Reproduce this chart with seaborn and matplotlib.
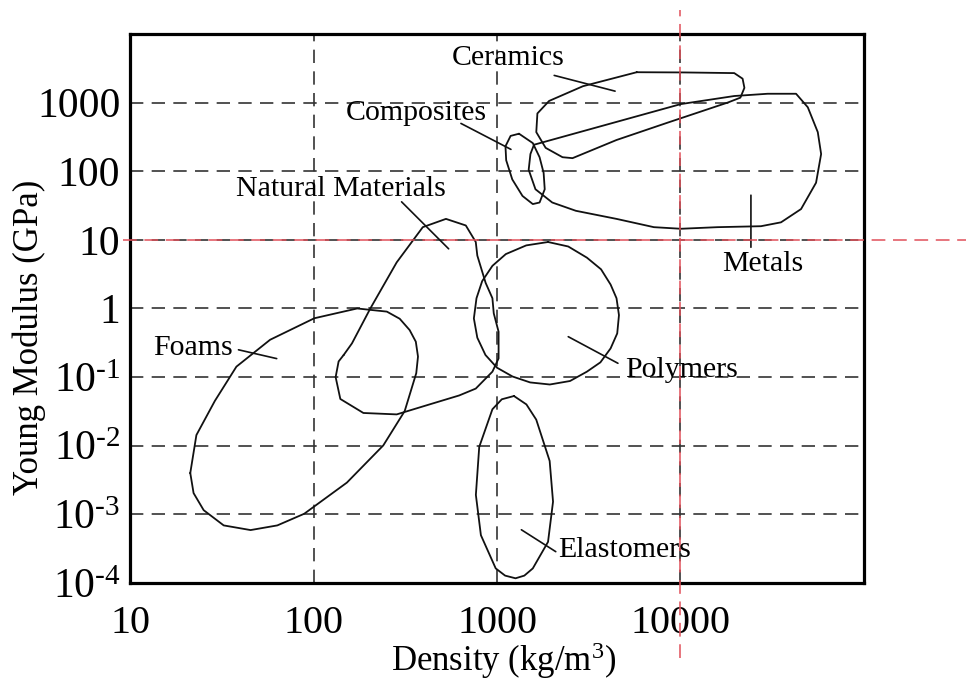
import matplotlib
matplotlib.use("Agg")
import numpy as np
import pandas as pd
import matplotlib.pyplot as plt
import seaborn as sns
from matplotlib.ticker import FixedLocator, FixedFormatter, NullLocator

# ---------------- data (outlines) ----------------
ceramics_density = [5770, 10440, 19630, 21800, 22300, 21200, 18070, 8450, 4480, 2580, 2275, 1841, 1637, 1660, 1923, 2940]
ceramics_modulus = [2770, 2750, 2690, 2230, 1640, 1180, 1000, 507, 285, 155, 160, 219, 371, 695, 1057, 1733]

composites_density = [1318, 1567, 1706, 1795, 1820, 1706, 1567, 1377, 1211, 1122, 1112, 1186]
composites_modulus = [352, 257, 160, 94.6, 54.6, 35.0, 33.2, 43.6, 76, 144.5, 231, 327]

metals_density = [1590, 10040, 19640, 29850, 42640, 49400, 56000, 58400, 54800, 45400, 35300, 27450,
                  15900, 10040, 7160, 4480, 2690, 2000, 1620, 1488, 1521]
metals_modulus = [243, 951, 1247, 1345, 1345, 855, 371, 178, 68, 28.1, 18.0, 15.8,
                  15.3, 14.5, 15.3, 20.2, 26.5, 35.0, 54.6, 105, 178]

natural_density = [146, 162, 204, 284, 394, 527, 676, 766, 781, 867, 944, 960, 1020, 1020, 944, 766,
                   622, 429, 284, 187, 140, 132, 137]
natural_modulus = [0.21, 0.31, 1.0, 4.7, 15.3, 20.2, 16.2, 9.3, 5.9, 2.36, 1.41, 0.85, 0.458, 0.187,
                   0.12, 0.068, 0.054, 0.040, 0.0286, 0.030, 0.048, 0.10, 0.169]

foams_density = [21.3, 22.2, 25.2, 32.4, 45.4, 63.5, 89, 152, 240, 314, 363, 371, 361, 334, 295, 251,
                 173, 101, 58, 38, 29, 23]
foams_modulus = [0.0040, 0.00204, 0.00115, 0.00069, 0.00059, 0.00069, 0.00102, 0.0029, 0.0101, 0.032,
                 0.114, 0.199, 0.328, 0.485, 0.708, 0.90, 1.0, 0.72, 0.35, 0.142, 0.045, 0.0143]

polymers_density = [1897, 2445, 3090, 3690, 4160, 4480, 4620, 4520, 4160, 3660, 3090, 2500, 1940, 1516,
                    1215, 1000, 865, 781, 748, 773, 830, 944, 1117, 1443]
polymers_modulus = [9.3, 8.0, 5.5, 3.72, 2.23, 1.41, 0.80, 0.433, 0.262, 0.164, 0.120, 0.0877, 0.078,
                    0.0836, 0.102, 0.137, 0.21, 0.375, 0.716, 1.41, 2.5, 4.18, 6.2, 8.3]

elastomers_density = [1237, 1446, 1636, 1936, 2020, 1897, 1567, 1409, 1262, 1107, 984, 817, 767, 800, 944, 1062]
elastomers_modulus = [0.053, 0.040, 0.024, 0.0060, 0.00153, 0.000397, 0.000163, 0.000128, 0.000117,
                      0.000128, 0.000163, 0.000497, 0.00192, 0.0096, 0.034, 0.0475]

# labels: name, text anchor (density, modulus), leader start, leader end
label_names = ["Ceramics", "Composites", "Natural Materials", "Foams", "Polymers", "Elastomers", "Metals"]
label_pos = [(570, 3570), (149, 562), (37.6, 43.6), (13.4, 0.212), (4970, 0.1016), (2160, 0.000238), (16900, 3.52)]
leader_start = [(2050, 2490), (636, 497), (302, 35.8), (39, 0.25), (2445, 0.388), (1358, 0.000596), (24200, 44.7)]
leader_end = [(4400, 1468), (1191, 208), (545, 7.4), (63, 0.186), (4560, 0.159), (2090, 0.000286), (24200, 7.8)]

x_ticks = [10, 100, 1000, 10000]
x_ticklabels = ["10", "100", "1000", "10000"]
y_ticks = [1e-4, 1e-3, 1e-2, 1e-1, 1, 10, 100, 1000]
y_ticklabels = ["10$^{\\text{-}4}$", "10$^{\\text{-}3}$", "10$^{\\text{-}2}$", "10$^{\\text{-}1}$",
                "1", "10", "100", "1000"]
ref_density = 10000
ref_modulus = 10

# ---------------- build table ----------------
outlines = {
    "Ceramics": (ceramics_density, ceramics_modulus),
    "Composites": (composites_density, composites_modulus),
    "Metals": (metals_density, metals_modulus),
    "Natural Materials": (natural_density, natural_modulus),
    "Foams": (foams_density, foams_modulus),
    "Polymers": (polymers_density, polymers_modulus),
    "Elastomers": (elastomers_density, elastomers_modulus),
}
frames = []
for name, (d, m) in outlines.items():
    d = list(d) + [d[0]]
    m = list(m) + [m[0]]
    frames.append(pd.DataFrame({"density": d, "modulus": m, "material": name, "order": range(len(d))}))
df = pd.concat(frames, ignore_index=True)

# ---------------- style ----------------
sns.set_theme(style="white")
plt.rcParams["font.family"] = ["Liberation Serif", "DejaVu Serif"]
plt.rcParams["mathtext.fontset"] = "custom"
plt.rcParams["mathtext.rm"] = "Liberation Serif"
plt.rcParams["mathtext.it"] = "Liberation Serif:italic"
plt.rcParams["mathtext.bf"] = "Liberation Serif:bold"

fig = plt.figure(figsize=(9.66, 6.82), dpi=100)
ax = fig.add_axes([0.1346, 0.1452, 0.7598, 0.8050])

sns.lineplot(data=df, x="density", y="modulus", units="material", estimator=None, sort=False,
             color="#111111", linewidth=1.3, legend=False, ax=ax)

ax.set_xscale("log")
ax.set_yscale("log")
ax.set_xlim(10, 1e5)
ax.set_ylim(1e-4, 1e4)

ax.xaxis.set_major_locator(FixedLocator(x_ticks))
ax.xaxis.set_major_formatter(FixedFormatter(x_ticklabels))
ax.yaxis.set_major_locator(FixedLocator(y_ticks))
ax.yaxis.set_major_formatter(FixedFormatter(y_ticklabels))
ax.xaxis.set_minor_locator(NullLocator())
ax.yaxis.set_minor_locator(NullLocator())

ax.grid(True, which="major", color="#333333", linewidth=1.2, linestyle=(0, (8, 5)))
ax.set_axisbelow(True)

ax.tick_params(axis="x", length=0, pad=16, labelsize=29, colors="black")
ax.tick_params(axis="y", length=0, pad=7, labelsize=30, colors="black")

for sp in ax.spines.values():
    sp.set_color("black")
    sp.set_linewidth(2.3)
    sp.set_zorder(5)

# red reference lines extending beyond the frame
red = "#e0505a"
ax.axvline(ref_density, ymin=-0.137, ymax=1.044, clip_on=False, color=red, linewidth=1.1,
           linestyle=(0, (9, 5)), zorder=6)
ax.axhline(ref_modulus, xmin=-0.01, xmax=1.14, clip_on=False, color=red, linewidth=1.1,
           linestyle=(0, (9, 5)), zorder=6)

# labels with leader lines
for name, pos, s, e in zip(label_names, label_pos, leader_start, leader_end):
    ax.text(pos[0], pos[1], name, fontsize=21.5, ha="left", va="baseline", color="black", zorder=7)
    ax.annotate("", xy=e, xytext=s,
                arrowprops=dict(arrowstyle="-", color="#111111", lw=1.2, shrinkA=0, shrinkB=0))

ax.set_xlabel("Density (kg/m$^3$)", fontsize=25, color="black")
ax.set_ylabel("Young Modulus (GPa)", fontsize=25, color="black")
ax.xaxis.set_label_coords(0.509, -0.105)
ax.yaxis.set_label_coords(-0.114, 0.448)

fig.savefig("out.png", dpi=100)
